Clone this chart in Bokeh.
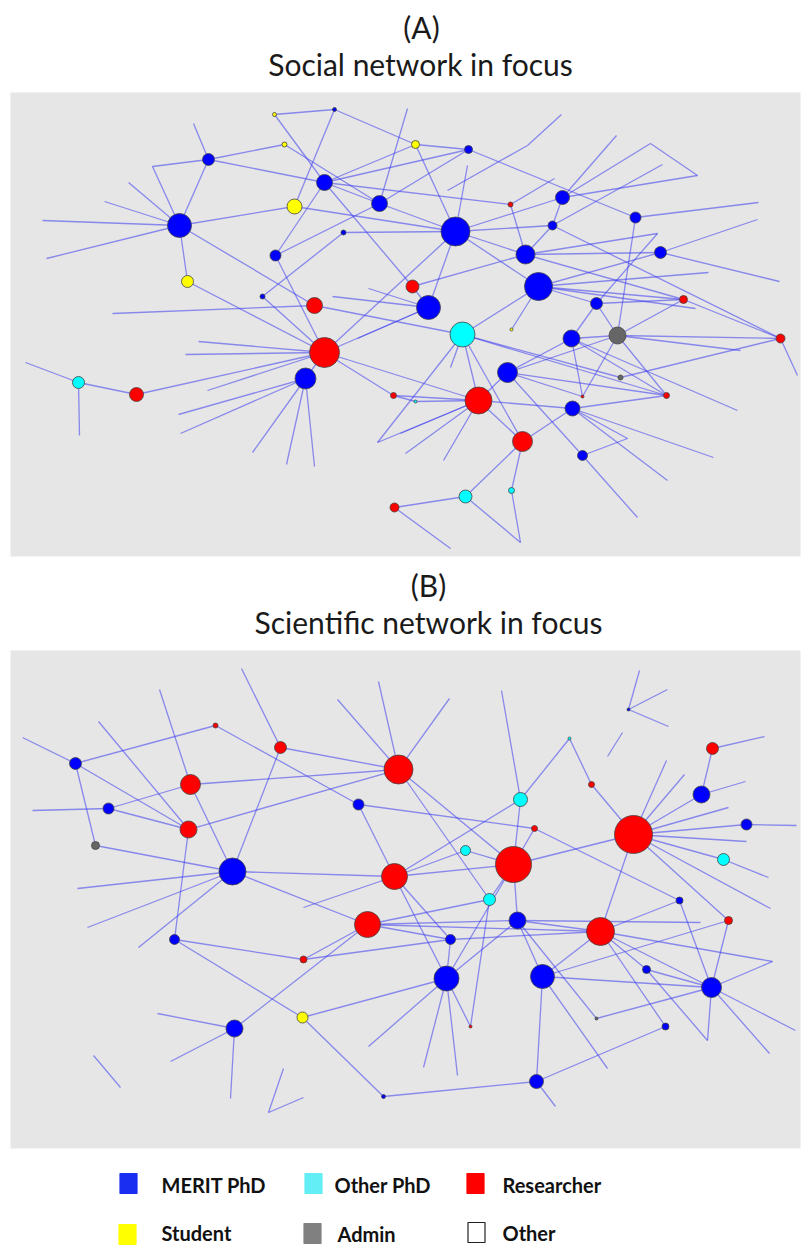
from bokeh.plotting import figure
from bokeh.models import Range1d, ColumnDataSource
from bokeh.core.properties import value
from bokeh.embed import file_html
from bokeh.resources import INLINE

# ---------------- data ----------------
ROLE_CODES = ["M", "O", "R", "S", "A", "X"]
ROLE_NAMES = ["MERIT PhD", "Other PhD", "Researcher", "Student", "Admin", "Other"]
NODE_COLORS = ["#0000ff", "#00ffff", "#ff0000", "#ffff00", "#666666", "#ffffff"]
LEGEND_COLORS = ["#1a2ef2", "#62eef4", "#ff0000", "#ffff00", "#808080", "#ffffff"]

# Panel A: social network (layout coordinates, node radius, role)
A_LABEL = ["a%d" % i for i in range(1, 50)]
A_X = [179, 208, 294, 324, 379, 343, 275, 187, 262, 314, 274, 334, 284, 415, 468, 510, 562, 552, 635, 455,
       525, 660, 412, 538, 428, 596, 683, 462, 571, 617, 780, 507, 620, 478, 666, 582, 572, 522, 582, 465,
       511, 415, 511, 78, 136, 324, 305, 393, 394]
A_Y = [225, 159, 206, 182, 203, 232, 255, 281, 296, 305, 114, 109, 144, 144, 149, 204, 197, 225, 217, 231,
       254, 252, 286, 286, 307, 303, 299, 334, 338, 335, 338, 372, 377, 400, 395, 396, 408, 441, 455, 496,
       490, 401, 329, 382, 394, 352, 378, 395, 507]
A_R = [12, 6, 7.5, 8, 8, 2.5, 5.5, 6, 2.5, 8, 2, 2, 2.5, 4, 4, 2.5, 7, 4.5, 5.5, 14.5,
       9.5, 6, 6.5, 14, 12, 6, 4, 12.5, 8.5, 8.5, 4.5, 10, 2.5, 13.5, 3, 1.5, 7.5, 10, 5, 6.5,
       3, 1.5, 1.5, 6, 7, 15, 10.5, 3, 4.5]
A_ROLE = ["M", "M", "S", "M", "M", "M", "M", "S", "M", "R", "S", "M", "S", "S", "M", "R", "M", "M", "M", "M",
          "M", "M", "R", "M", "M", "M", "R", "O", "M", "A", "R", "M", "A", "R", "R", "R", "M", "R", "M", "O",
          "O", "O", "S", "O", "R", "R", "M", "R", "R"]
A_EDGES = [
    ("a1", (42, 220)), ("a1", (46, 258)), ("a1", (104, 201)), ("a1", (128, 182)), ("a1", (152, 166)),
    ((152, 166), "a2"), ("a1", "a2"), ("a2", (193, 123)), ("a2", "a13"), ("a2", "a4"), ("a1", "a3"),
    ("a1", "a8"), ("a1", "a10"), ("a8", "a46"), ("a3", "a20"), ("a11", "a12"), ("a11", "a4"),
    ("a12", "a3"), ("a12", "a14"), ("a4", "a14"), ("a4", "a5"), ("a4", "a23"), ("a4", "a7"),
    ("a7", "a5"), ("a7", "a46"), ("a9", "a6"), ("a6", "a20"), ("a9", "a46"), ("a10", "a28"),
    ("a10", (112, 313)), ("a13", "a5"), ("a5", (407, 108)), ("a14", "a15"), ("a14", "a20"),
    ("a15", "a19"), ("a15", "a4"), ("a15", "a5"), ("a20", (467, 165)), ((447, 190), (527, 145)),
    ((527, 145), (561, 114)), ("a4", "a16"), ("a16", "a21"), ("a16", (554, 178)), ("a20", "a17"),
    ("a20", "a18"), ("a20", "a21"), ("a20", "a25"), ("a20", "a24"), ("a20", "a5"), ("a17", (616, 135)),
    ("a17", (650, 143)), ((650, 143), (697, 175)), ((697, 175), "a17"), ("a18", (662, 164)),
    ("a17", "a18"), ("a18", "a21"), ("a18", "a31"), ("a19", (758, 202)), ("a19", "a30"),
    ("a22", (757, 219)), ("a22", (779, 281)), ("a21", (657, 233)), ((657, 233), "a26"),
    ("a21", "a22"), ("a21", "a27"), ("a24", "a22"), ("a24", (708, 272)), ("a24", "a27"),
    ("a24", (695, 308)), ("a24", "a26"), ("a24", "a28"), ("a24", "a43"), ("a23", "a21"),
    ("a23", "a25"), ("a25", (332, 296)), ("a25", (368, 288)), ("a26", "a29"), ("a26", "a30"),
    ("a26", "a27"), ("a27", "a30"), ("a27", "a31"),
    ((377, 442), "a28"), ((377, 442), "a34"), ("a28", "a34"), ("a28", "a38"), ("a28", "a35"),
    ("a28", "a33"), ("a28", (450, 367)), ("a32", "a39"), ("a39", (637, 517)), ("a32", "a29"), ("a32", "a30"),
    ("a32", "a35"), ("a32", "a36"), ("a32", "a34"), ("a34", (400, 433)), ("a34", (405, 453)),
    ("a34", (443, 460)), ("a42", "a34"), ("a34", "a37"), ("a34", "a38"), ("a37", "a38"),
    ("a37", (713, 457)), ("a37", (667, 480)), ("a37", (627, 438)), ((627, 438), "a39"),
    ("a37", "a35"), ("a29", "a36"), ("a36", "a30"), ("a29", "a30"), ("a30", "a31"), ("a29", "a35"),
    ("a29", (737, 410)), ("a30", (740, 350)), ("a30", "a35"), ("a33", "a31"), ("a31", (797, 375)),
    ("a38", "a40"), ("a38", "a41"), ("a49", "a40"), ("a49", (450, 548)), ("a40", (520, 542)),
    ((520, 542), "a41"), ("a44", (25, 362)), ("a44", (79, 435)), ("a44", "a45"), ("a45", "a46"),
    ("a46", (198, 341)), ("a46", (185, 354)), ("a46", (207, 390)), ("a46", "a47"), ("a46", "a34"),
    ("a46", "a48"), ("a25", (357, 338)), ("a46", "a25"), ("a46", "a20"), ("a47", (178, 414)),
    ("a47", (180, 433)), ("a47", (252, 452)), ("a47", (286, 464)), ("a47", (314, 466)),
    ("a48", "a42"), ("a48", "a34"),
]

# Panel B: scientific network
B_LABEL = ["b%d" % i for i in range(1, 44)]
B_X = [75, 215, 280, 398, 190, 108, 358, 188, 95, 232, 394, 520, 591, 569, 628, 712, 701, 746, 633, 723,
       513, 534, 465, 489, 174, 303, 367, 302, 234, 383, 517, 450, 600, 679, 728, 446, 542, 646, 711, 596,
       470, 665, 536]
B_Y = [763, 725, 747, 769, 784, 808, 804, 829, 845, 871, 876, 799, 784, 738, 709, 748, 794, 824, 834, 859,
       864, 828, 850, 899, 939, 959, 924, 1017, 1028, 1096, 920, 939, 931, 900, 920, 978, 976, 969, 987, 1018,
       1026, 1026, 1081]
B_R = [6, 2.5, 6, 14.5, 10, 5.5, 5.5, 8.5, 4, 13.5, 13, 7, 3, 1.5, 1.5, 6, 8.5, 5.5, 19, 6,
       18, 3, 5, 6, 5, 3.5, 13, 5.5, 8.5, 2, 8.5, 5, 14, 3.5, 4, 12.5, 12, 4, 10, 1.5,
       1.5, 3.5, 7]
B_ROLE = ["M", "R", "R", "R", "R", "M", "M", "R", "A", "M", "R", "O", "R", "O", "M", "R", "M", "M", "R", "O",
          "R", "R", "O", "O", "M", "R", "R", "S", "M", "M", "M", "M", "R", "M", "R", "M", "M", "M", "M", "A",
          "R", "M", "M"]
B_EDGES = [
    ("b1", (22, 737)), ("b1", "b2"), ("b1", "b8"), ("b1", "b9"), ("b2", "b7"), ((98, 721), "b8"),
    ((159, 689), "b5"), ((241, 668), "b3"), ((337, 699), "b4"), ((378, 681), "b4"), ("b3", "b4"),
    ("b3", "b10"), ("b5", "b4"), ("b5", "b6"), ("b5", "b10"), ("b6", (32, 810)), ("b6", "b8"),
    ("b8", "b4"), ("b8", "b25"), ("b9", "b10"), ("b10", "b11"), ("b10", (77, 888)), ("b10", (87, 927)),
    ("b10", (138, 947)), ("b10", "b27"), ("b7", "b11"), ("b7", "b22"), ("b4", (449, 698)),
    ("b4", "b21"), ("b4", "b24"), ("b12", (501, 690)), ("b12", "b14"), ("b12", "b21"), ("b12", "b11"),
    ("b14", "b13"), ("b13", "b19"), ("b15", (639, 670)), ("b15", (667, 689)), ("b15", (668, 726)),
    ((622, 732), (607, 756)), ("b16", (764, 736)), ("b16", "b17"), ("b17", (745, 781)), ("b17", "b19"),
    ("b19", (666, 760)), ("b19", (684, 774)), ("b19", (728, 807)), ("b19", "b18"), ("b19", (746, 841)),
    ("b19", "b20"), ("b19", (770, 908)), ("b19", "b35"), ("b19", "b21"), ("b19", "b33"),
    ("b18", (796, 825)), ("b20", (768, 877)), ("b22", "b21"), ("b22", "b34"), ("b23", "b21"),
    ("b23", "b11"), ("b11", "b21"), ("b25", "b26"), ("b25", "b28"), ((303, 907), "b11"),
    ("b27", "b26"), ("b27", "b29"), ("b26", "b32"), ("b28", "b36"), ("b28", "b30"),
    ("b29", (157, 1013)), ("b29", (170, 1061)), ("b29", (230, 1098)), ((93, 1055), (120, 1087)),
    ((283, 1068), (268, 1112)), ((268, 1112), (303, 1097)), ((368, 1046), "b36"), ("b30", "b43"),
    ("b11", "b36"), ("b24", "b41"), ("b24", "b27"), ("b24", "b21"), ("b31", "b33"), ("b31", "b36"),
    ("b31", "b37"), ("b31", "b40"), ("b40", "b39"), ("b31", (700, 922)), ("b32", "b36"),
    ("b32", "b33"), ("b33", "b34"), ("b33", "b39"), ("b33", "b38"), ("b33", "b42"), ("b33", "b37"),
    ("b33", (772, 961)), ((772, 961), "b39"), ("b35", "b39"), ("b35", "b37"), ("b34", "b39"),
    ("b37", "b43"), ("b37", (607, 1068)), ("b37", "b39"), ("b38", (707, 1040)), ((707, 1040), "b39"),
    ("b38", "b39"), ("b39", (795, 1030)), ("b39", (769, 1053)), ("b36", (423, 1067)),
    ("b36", (457, 1075)), ("b36", "b41"), ("b43", "b42"), ("b43", (555, 1106)), ("b27", "b31"),
    ("b27", "b32"), ("b27", "b33"), ("b21", "b31"), ("b11", "b32"), ("b21", "b36"),
]

# Panel frames, titles and legend
PANEL_LEFT = [10, 10]
PANEL_RIGHT = [800, 800]
PANEL_TOP = [92, 650]
PANEL_BOTTOM = [556, 1148]
TITLE_TEXT = ["(A)", "Social network in focus", "(B)", "Scientific network in focus"]
TITLE_X = [421, 420, 428, 428]
TITLE_Y = [26, 63, 584, 621]
LEGEND_LABELS = ROLE_NAMES
LEGEND_BOX_X = [128, 313, 475, 127, 312, 476]
LEGEND_BOX_Y = [1183, 1183, 1183, 1234, 1233, 1232]
LEGEND_TEXT_X = [161, 334, 502, 161, 337, 502]
LEGEND_TEXT_Y = [1184, 1184, 1184, 1232, 1233, 1232]

# ---------------- drawing ----------------
role_color = dict(zip(ROLE_CODES, NODE_COLORS))

p = figure(width=805, height=1245, output_backend="svg", toolbar_location=None,
           x_range=Range1d(0, 805), y_range=Range1d(1245, 0), min_border=0,
           background_fill_color="white", border_fill_color="white")
p.axis.visible = False
p.grid.visible = False
p.outline_line_color = None

p.quad(left=PANEL_LEFT, right=PANEL_RIGHT, top=PANEL_TOP, bottom=PANEL_BOTTOM,
       fill_color="#e6e6e6", line_color=None)


def draw_network(labels, xs, ys, rs, roles, edges):
    pos = {l: (x, y) for l, x, y in zip(labels, xs, ys)}

    def pt(e):
        return pos[e] if isinstance(e, str) else e

    x0, y0, x1, y1 = [], [], [], []
    for u, v in edges:
        a, b = pt(u), pt(v)
        x0.append(a[0]); y0.append(a[1]); x1.append(b[0]); y1.append(b[1])
    p.segment(x0=x0, y0=y0, x1=x1, y1=y1, line_color="#3a3af0", line_alpha=0.55, line_width=1.3)
    order = sorted(range(len(xs)), key=lambda i: -rs[i])
    src = ColumnDataSource(dict(
        x=[xs[i] for i in order], y=[ys[i] for i in order],
        size=[2 * rs[i] for i in order],
        color=[role_color[roles[i]] for i in order]))
    p.scatter(x="x", y="y", size="size", fill_color="color", line_color="#444444",
              line_width=0.8, source=src)


draw_network(A_LABEL, A_X, A_Y, A_R, A_ROLE, A_EDGES)
draw_network(B_LABEL, B_X, B_Y, B_R, B_ROLE, B_EDGES)

p.text(x=TITLE_X, y=TITLE_Y, text=TITLE_TEXT, text_font=value("Lato"), text_font_size="30px",
       text_align="center", text_baseline="middle", text_color="#1a1a1a")

p.rect(x=LEGEND_BOX_X, y=LEGEND_BOX_Y, width=17, height=20, fill_color=LEGEND_COLORS,
       line_color=["#1a2ef2", "#62eef4", "#ff0000", "#ffff00", "#808080", "#222222"], line_width=1.2)
p.text(x=LEGEND_TEXT_X, y=LEGEND_TEXT_Y, text=LEGEND_LABELS, text_font=value("Lato"),
       text_font_size="20px", text_font_style="bold", text_align="left",
       text_baseline="middle", text_color="#111111")

open("out.html", "w").write(file_html(p, INLINE))
